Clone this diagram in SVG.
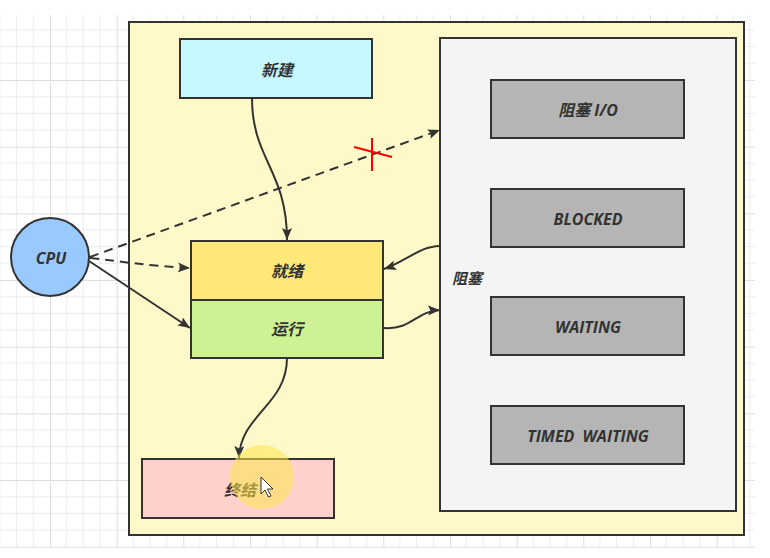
<svg xmlns="http://www.w3.org/2000/svg" width="770" height="558" viewBox="0 0 770 558">
  <defs>
    <pattern id="grid" x="-16.667" y="13.333" width="66.667" height="66.667" patternUnits="userSpaceOnUse">
      <path d="M16.667,0 V66.667 M33.333,0 V66.667 M50,0 V66.667 M0,16.667 H66.667 M0,33.333 H66.667 M0,50 H66.667" stroke="#ececec" stroke-width="1" fill="none"/>
      <path d="M0.5,0 V66.667 M0,0.5 H66.667" stroke="#dedede" stroke-width="1" fill="none"/>
    </pattern>
    <marker id="arrow" markerUnits="userSpaceOnUse" markerWidth="13" markerHeight="11" refX="12" refY="5" orient="auto">
      <path d="M0,0 L12,5 L0,10 L2.5,5 Z" fill="#333333"/>
    </marker>
  </defs>
  <style>
    .box { stroke: #333333; stroke-width: 2; }
    .lbl { font-family: "Open Sans", "Noto Sans CJK SC", sans-serif; font-size: 16px; font-weight: bold; font-style: italic; fill: #333333; text-anchor: middle; dominant-baseline: central; }
    .edge { fill: none; stroke: #333333; stroke-width: 2; marker-end: url(#arrow); }
    .dash { stroke-dasharray: 9 6; }
  </style>

  <rect x="0" y="0" width="770" height="558" fill="#ffffff"/>
  <rect x="0" y="15" width="755" height="533" fill="url(#grid)"/>

  <g id="container">
    <rect class="box" x="129" y="22" width="615" height="513" fill="#fff9c9"/>
  </g>

  <g id="blocked-group">
    <rect class="box" x="440" y="38" width="296" height="473" fill="#f4f4f4"/>
    <text class="lbl" x="452" y="278" style="text-anchor:start;font-size:15px">阻塞</text>
  </g>

  <g id="blocked-io">
    <rect class="box" x="491" y="80" width="193" height="58" fill="#b5b5b5"/>
    <text class="lbl" x="588" y="110">阻塞 I/O</text>
  </g>
  <g id="blocked">
    <rect class="box" x="491" y="189" width="193" height="58" fill="#b5b5b5"/>
    <text class="lbl" x="588" y="219">BLOCKED</text>
  </g>
  <g id="waiting">
    <rect class="box" x="491" y="297" width="193" height="58" fill="#b5b5b5"/>
    <text class="lbl" x="588" y="327">WAITING</text>
  </g>
  <g id="timed-waiting">
    <rect class="box" x="491" y="406" width="193" height="58" fill="#b5b5b5"/>
    <text class="lbl" x="588" y="436" style="word-spacing:4px">TIMED WAITING</text>
  </g>

  <g id="new">
    <rect class="box" x="180" y="39" width="192" height="59" fill="#c8f8ff"/>
    <text class="lbl" x="277" y="70">新建</text>
  </g>
  <g id="ready">
    <rect class="box" x="191" y="241" width="192" height="59" fill="#ffe878"/>
    <text class="lbl" x="287" y="271">就绪</text>
  </g>
  <g id="running">
    <rect class="box" x="191" y="300" width="192" height="58" fill="#cdf193"/>
    <text class="lbl" x="287" y="329">运行</text>
  </g>
  <g id="terminated">
    <rect class="box" x="142" y="459" width="192" height="59" fill="#ffd1cc"/>
    <text class="lbl" x="240" y="490">终结</text>
  </g>
  <g id="cpu">
    <circle class="box" cx="50" cy="257" r="39" fill="#99c9ff"/>
    <text class="lbl" x="51" y="258">CPU</text>
  </g>

  <g id="connectors">
    <path class="edge" d="M252,98 C252,160 287,170 287,240"/>
    <path class="edge dash" d="M90,257 L440,130"/>
    <path class="edge dash" d="M90,258 C125,262 150,266 190,268"/>
    <path class="edge" d="M89,261 L190,328"/>
    <path class="edge" d="M440,246 C420,246 405,262 384,269"/>
    <path class="edge" d="M384,328 C412,330 416,311 440,310"/>
    <path class="edge" d="M287,358 C287,405 240,415 239,458"/>
    <g id="blocked-mark" stroke="#ff0000" stroke-width="2" fill="none">
      <path d="M354,147 L392,157"/>
      <path d="M372,138 L372,171"/>
    </g>
  </g>

  <g id="pointer">
    <circle cx="262" cy="477" r="32" fill="#ffe54a" fill-opacity="0.55"/>
    <path d="M261,477 L261,494 L265,490 L268.5,497 L271,496 L267.5,489 L273,489 Z" fill="#ffffff" stroke="#333333" stroke-width="1"/>
  </g>
</svg>
